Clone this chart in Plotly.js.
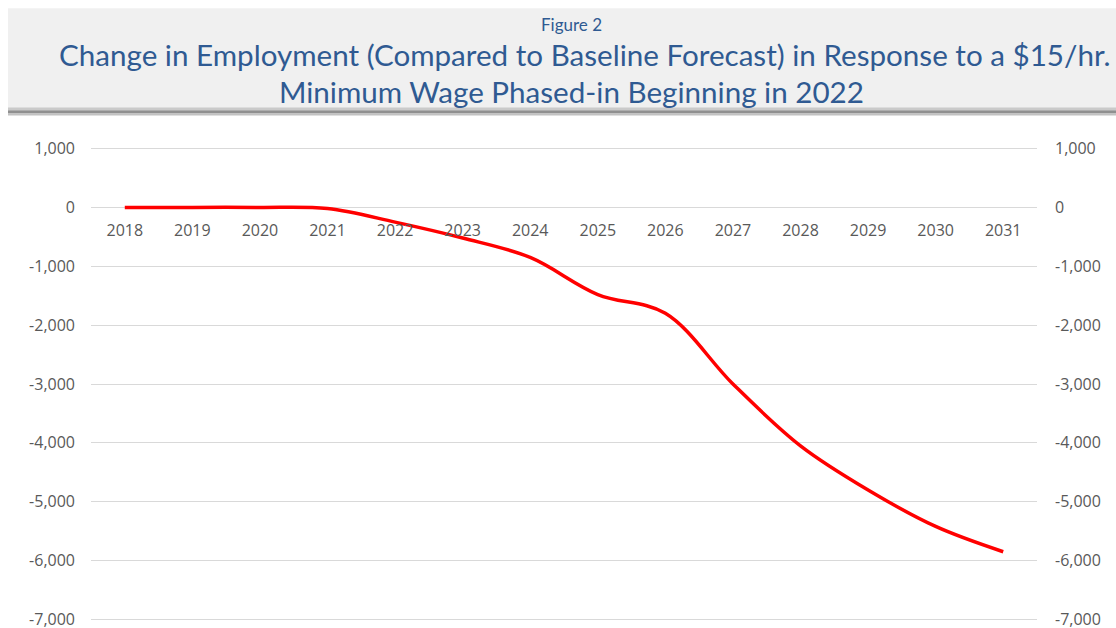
<!DOCTYPE html>
<html>
<head>
<meta charset="utf-8">
<script src="https://cdn.plot.ly/plotly-3.0.1.min.js"></script>
<style>html,body{margin:0;padding:0;background:#fff;}#chart{width:1116px;height:628px;}</style>
</head>
<body>
<div id="chart"></div>
<script>
const years = ['2018','2019','2020','2021','2022','2023','2024','2025','2026','2027','2028','2029','2030','2031'];
const employmentChange = [0, 0, 0, -20, -250, -520, -850, -1480, -1800, -3000, -4050, -4800, -5420, -5850];
const yTickValues = [1000, 0, -1000, -2000, -3000, -4000, -5000, -6000, -7000];
const yTickText = ['1,000', '0', '-1,000', '-2,000', '-3,000', '-4,000', '-5,000', '-6,000', '-7,000'];
const figureLabel = 'Figure 2';
const titleLine1 = 'Change in Employment (Compared to Baseline Forecast) in Response to a $15/hr.';
const titleLine2 = 'Minimum Wage Phased-in Beginning in 2022';

const W = 1116, H = 628;
const yMin = -7060, yMax = 1060;
const L = 91, R = 1037;
const pxPerUnit = 470 / 8000;
const T = 149 - (yMax - 1000) * pxPerUnit;
const B = 619 + (-7000 - yMin) * pxPerUnit;
const px = x => (x - L) / (R - L);
const py = y => (B - y) / (B - T);

const titleColor = '#2f5a92';
const tickFont = {family: 'Open Sans, sans-serif', size: 16, color: '#595959'};

const traces = [
  {x: years, y: employmentChange, type: 'scatter', mode: 'lines',
   line: {color: '#ff0000', width: 3.5, shape: 'spline', smoothing: 1},
   hoverinfo: 'skip', showlegend: false},
  {x: years, y: employmentChange, type: 'scatter', mode: 'lines', yaxis: 'y2',
   line: {color: 'rgba(0,0,0,0)', width: 0}, hoverinfo: 'skip', showlegend: false}
];

const yAxisCommon = {
  range: [yMin, yMax], tickmode: 'array', tickvals: yTickValues, ticktext: yTickText,
  showline: false, zeroline: false, ticks: '', tickfont: tickFont,
  fixedrange: true, automargin: false, ticklabeloverflow: 'allow'
};

const layout = {
  width: W, height: H,
  margin: {l: L, r: W - R, t: T, b: H - B, pad: 0},
  paper_bgcolor: '#ffffff', plot_bgcolor: '#ffffff',
  showlegend: false,
  xaxis: {
    type: 'category', range: [-0.5, 13.5], anchor: 'free', position: py(208),
    showgrid: false, showline: false, zeroline: false, ticks: '',
    tickfont: tickFont, ticklabelstandoff: 11, fixedrange: true, automargin: false
  },
  yaxis: Object.assign({}, yAxisCommon, {
    side: 'left', showgrid: true, gridcolor: '#d9d9d9', gridwidth: 1, ticklabelstandoff: 15
  }),
  yaxis2: Object.assign({}, yAxisCommon, {
    side: 'right', overlaying: 'y', showgrid: false, ticklabelstandoff: 17
  }),
  shapes: [
    {type: 'rect', xref: 'paper', yref: 'paper', x0: px(8), x1: px(1116), y0: py(110), y1: py(9),
     fillcolor: '#f0f0f0', line: {width: 0}, layer: 'below'},
    {type: 'rect', xref: 'paper', yref: 'paper', x0: px(8), x1: px(1116), y0: py(112), y1: py(108),
     fillcolor: '#cacaca', line: {width: 0}, layer: 'below'},
    {type: 'rect', xref: 'paper', yref: 'paper', x0: px(8), x1: px(1116), y0: py(114), y1: py(111),
     fillcolor: '#909090', line: {width: 0}, layer: 'below'},
    {type: 'rect', xref: 'paper', yref: 'paper', x0: px(8), x1: px(1116), y0: py(116), y1: py(114),
     fillcolor: '#c2c2c2', line: {width: 0}, layer: 'below'}
  ],
  annotations: [
    {text: figureLabel, xref: 'paper', yref: 'paper', x: px(571), y: py(25),
     xanchor: 'center', yanchor: 'middle', showarrow: false,
     font: {family: 'Lato, sans-serif', size: 17, color: titleColor}},
    {text: titleLine1, xref: 'paper', yref: 'paper', x: px(585), y: py(55),
     xanchor: 'center', yanchor: 'middle', showarrow: false,
     font: {family: 'Lato, sans-serif', size: 29.6, color: titleColor}},
    {text: titleLine2, xref: 'paper', yref: 'paper', x: px(571), y: py(92),
     xanchor: 'center', yanchor: 'middle', showarrow: false,
     font: {family: 'Lato, sans-serif', size: 29.6, color: titleColor}}
  ]
};

Plotly.newPlot('chart', traces, layout, {displayModeBar: false, staticPlot: true});
</script>
</body>
</html>
